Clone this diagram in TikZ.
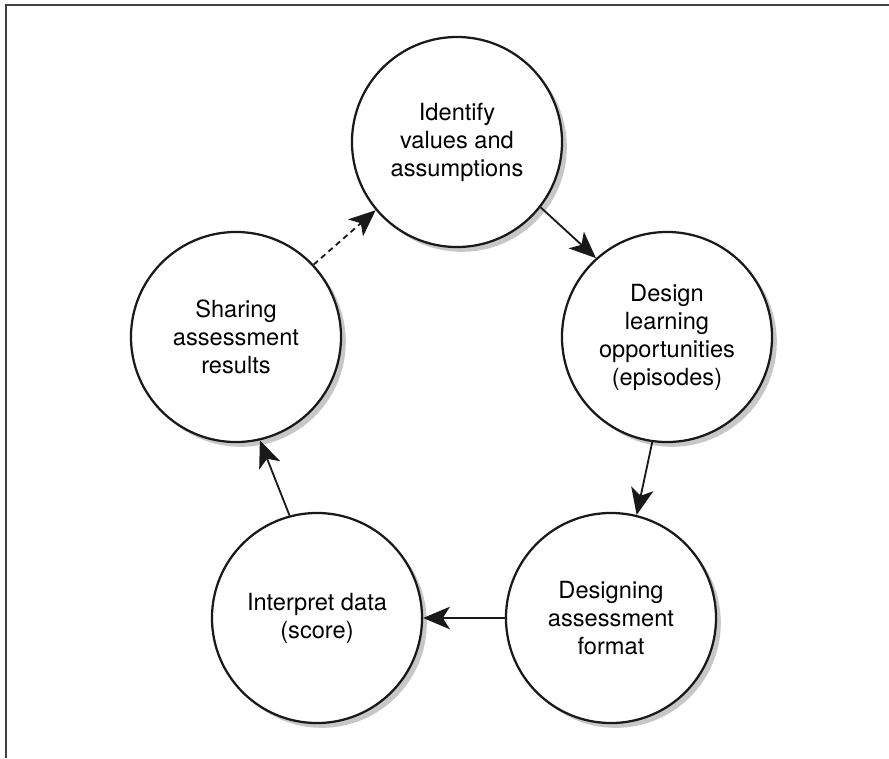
\documentclass[tikz,border=0pt]{standalone}
\usepackage{fontspec}
\setmainfont{TeX Gyre Heros}
\usetikzlibrary{shadows}
\usetikzlibrary{positioning}
\usetikzlibrary{arrows.meta}
\tikzstyle{stage}=[circle,draw=black!90,fill=white,line width=1.6pt,minimum size=5.25cm,inner sep=0pt,align=center,font=\fontsize{16.8}{19.9}\selectfont,drop shadow={shadow xshift=0.12cm,shadow yshift=-0.12cm,fill=black!22,opacity=1}]
\tikzstyle{edge} = [draw,black!90,line width=1.3pt,-{Stealth[length=19pt,width=16pt,inset=5pt]}]
\tikzstyle{dashededge} = [edge,dash pattern=on 4pt off 3pt]
\tikzstyle{frame} = [draw,black!75,line width=1.4pt]

\begin{document}
\begin{tikzpicture}[x=0.025cm,y=-0.025cm]

    \useasboundingbox (0,0) rectangle (889,758);

    % The frame (top and left side only)
    \draw[frame] (6,758) -- (6,5) -- (889,5);

    % First we draw the stages of the cycle
    \foreach \pos/\name/\label in {{(457,142)/ident/{Identify\\values and\\assumptions}},
        {(667,337)/learn/{Design\\learning\\opportunities\\(episodes)}},
        {(611,618)/format/{Designing\\assessment\\format}},
        {(317,618)/interp/{Interpret data\\(score)}},
        {(236,337)/share/{Sharing\\assessment\\results}}}
        \node[stage] (\name) at \pos {\label};

    % Connect the stages with arrows
    \foreach \source/\dest in {ident.-38/learn.132, learn.262/format.76, format.180/interp.0, interp.105/share.-77}
        \path[edge] (\source) -- (\dest);

    % The dashed one closes the cycle
    \path[dashededge] (share.43) -- (ident.220);

\end{tikzpicture}
\end{document}
